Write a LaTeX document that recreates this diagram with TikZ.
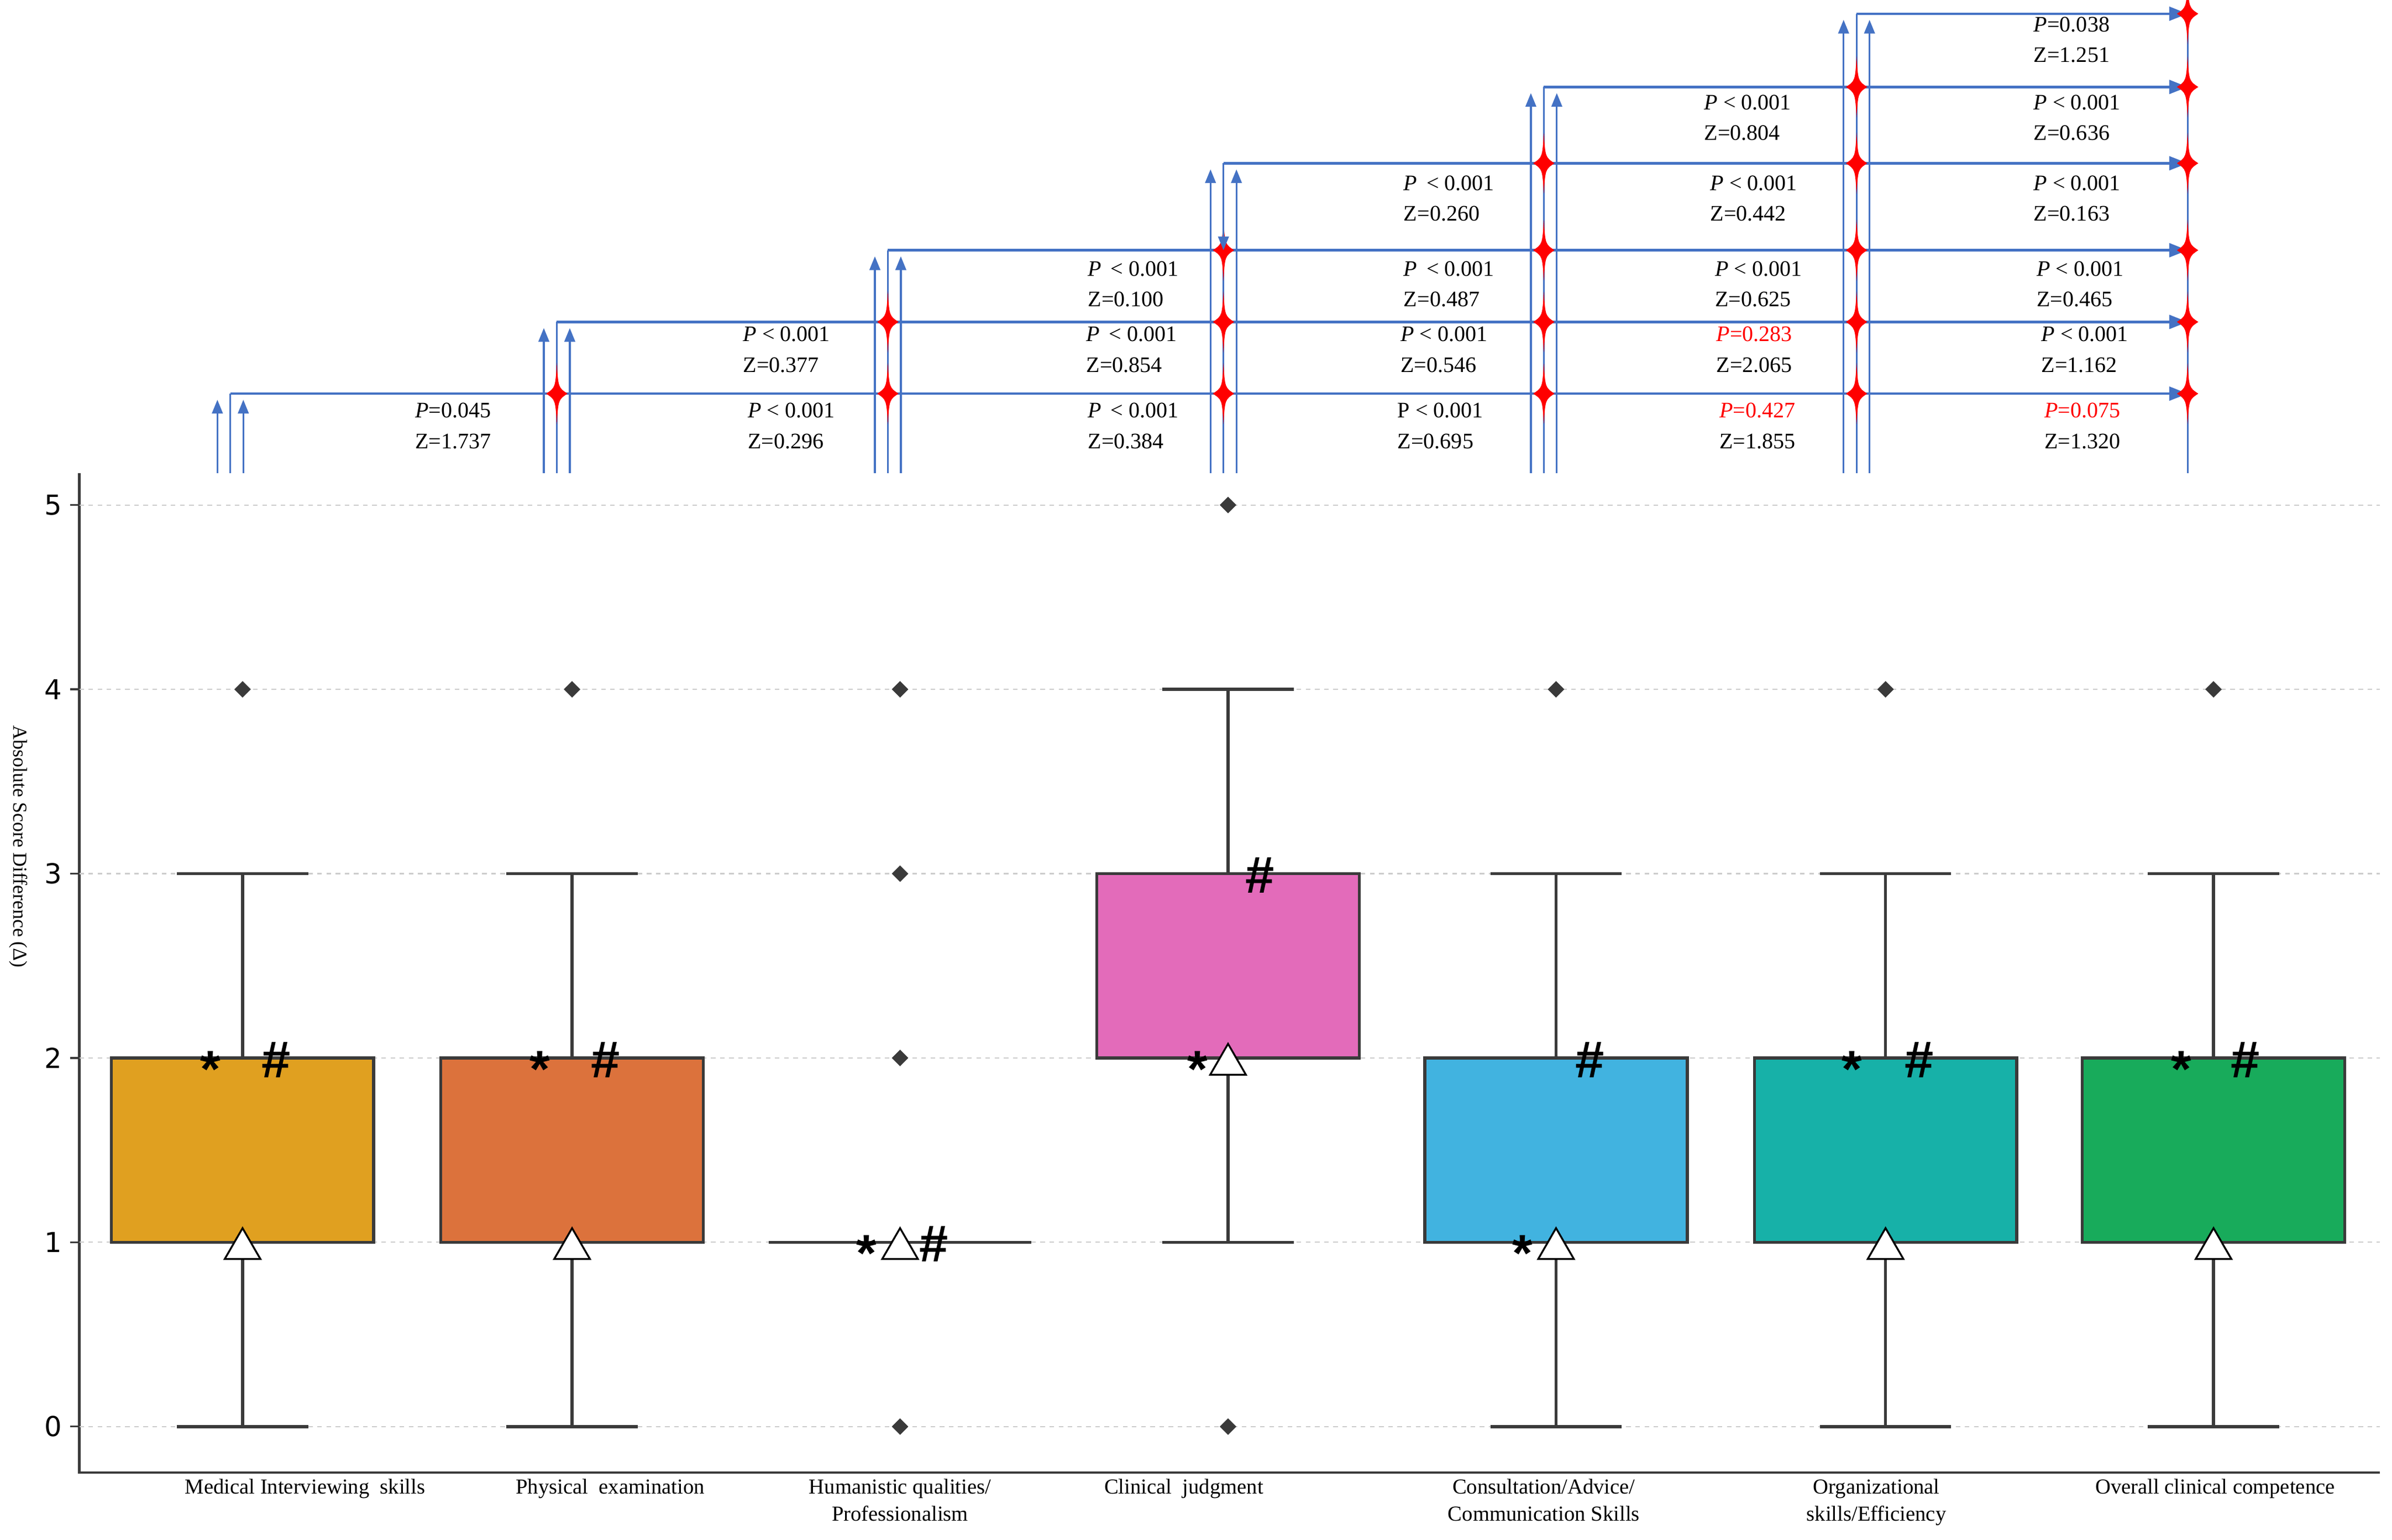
\documentclass[tikz,border=0pt]{standalone}
\usepackage{fontspec}
\setmainfont{Liberation Serif}
\newfontfamily\tickfont{DejaVu Sans}
\newfontfamily\markfont{Liberation Sans}
\usepackage{tikz}
\usetikzlibrary{arrows.meta,shapes.geometric}
\definecolor{linkblue}{HTML}{4472C4}
\definecolor{edgegray}{HTML}{3A3A3A}
\definecolor{boxA}{HTML}{E0A020}
\definecolor{boxB}{HTML}{DC723C}
\definecolor{boxD}{HTML}{E36BBA}
\definecolor{boxE}{HTML}{41B3E0}
\definecolor{boxF}{HTML}{17B1A8}
\definecolor{boxG}{HTML}{18AB5B}
\tikzset{
  bl/.style={draw=linkblue,line width=1.2pt},
  uparrow/.style={bl,-{Triangle[length=9pt,width=7pt]}},
  rowarrow/.style={bl,line width=1.6pt,-{Triangle[length=12pt,width=9pt]}},
  spark/.pic={\fill[red] (0,-20) .. controls (1,-4) .. (7,0) .. controls (1,4) .. (0,20)
     .. controls (-1,4) .. (-7,0) .. controls (-1,-4) .. cycle;},
  stat/.style={anchor=north west,align=left,inner sep=0pt,font=\fontsize{14.5}{20}\selectfont},
  outlier/.style={diamond,fill=edgegray,inner sep=0pt,minimum size=11pt},
  meanmark/.style={regular polygon,regular polygon sides=3,draw=black,fill=white,line width=1.2pt,inner sep=0pt,minimum size=27pt},
  sigmark/.style={font=\markfont\bfseries\fontsize{34}{34}\selectfont,inner sep=0pt},
  xlab/.style={anchor=north,align=center,inner sep=0pt,font=\fontsize{14}{18}\selectfont},
}
\begin{document}
\begin{tikzpicture}[x=1pt,y=-1pt]
\useasboundingbox (0,0) rectangle (1568,1009);

% comparison grid
\foreach \xx [count=\j] in {151,365,582,802,1012,1217,1434} {
  \coordinate (b\j) at (\xx,310);
  \foreach \yy [count=\i] in {258,211,164,107,57,9}
    \coordinate (r\i c\j) at (\xx,\yy);
}
\foreach \j in {1,...,6} \draw[bl] (b\j) -- (r\j c\j);
\draw[bl] (b7) -- (r6c7);
\foreach \i in {1,...,6} {
  \draw[uparrow] ([xshift=-8.5pt]b\i) -- ([xshift=-8.5pt,yshift=-4pt]r\i c\i);
  \draw[uparrow] ([xshift=8.5pt]b\i) -- ([xshift=8.5pt,yshift=-4pt]r\i c\i);
  \draw[rowarrow] (r\i c\i) -- (r\i c7);
  \pgfmathtruncatemacro\nxt{\i+1}
  \foreach \j in {\nxt,...,7} \pic at (r\i c\j) {spark};
}
\draw[bl,-{Triangle[length=9pt,width=7pt]}] (r4c4) -- (r3c4);

% statistics
\foreach \xx/\yy/\pp/\zz in {
  272/264/\textit{P}=0.045/1.737, 490/264/\textit{P} < 0.001/0.296,
  713/264/\textit{P}\ \,< 0.001/0.384, 916/264/P < 0.001/0.695,
  1127/264/{\color{red}\textit{P}=0.427}/1.855, 1340/264/{\color{red}\textit{P}=0.075}/1.320,
  487/214/\textit{P} < 0.001/0.377, 712/214/\textit{P}\ \,< 0.001/0.854,
  918/214/\textit{P} < 0.001/0.546, 1125/214/{\color{red}\textit{P}=0.283}/2.065,
  1338/214/\textit{P} < 0.001/1.162,
  713/171/\textit{P}\ \,< 0.001/0.100, 920/171/\textit{P}\ \,< 0.001/0.487,
  1124/171/\textit{P} < 0.001/0.625, 1335/171/\textit{P} < 0.001/0.465,
  920/115/\textit{P}\ \,< 0.001/0.260, 1121/115/\textit{P} < 0.001/0.442,
  1333/115/\textit{P} < 0.001/0.163,
  1117/62/\textit{P} < 0.001/0.804, 1333/62/\textit{P} < 0.001/0.636,
  1333/11/\textit{P}=0.038/1.251}
  \node[stat] at (\xx,\yy) {\pp\\Z=\zz};

% axes
\draw[edgegray,line width=1.5pt] (52,310) -- (52,965) -- (1560,965);
\begin{scope}[shift={(0,935)},y=120.8pt]
  \foreach \v in {0,...,5} {
    \draw[gray!40,dashed,line width=0.8pt] (52,\v) -- (1560,\v);
    \draw[edgegray,line width=1.2pt] (46,\v) -- (52,\v);
    \node[anchor=east,font=\tickfont\fontsize{18}{18}\selectfont] (tick\v) at (44,\v) {\v};
  }
  % boxes
  \foreach \cx/\lo/\hi/\wl/\wh/\col in {159/1/2/0/3/boxA,375/1/2/0/3/boxB,
      590/1/1/1/1/white,805/2/3/1/4/boxD,1020/1/2/0/3/boxE,1236/1/2/0/3/boxF,1451/1/2/0/3/boxG} {
    \draw[edgegray,line width=2pt] (\cx,\wl) -- (\cx,\lo) (\cx,\hi) -- (\cx,\wh);
    \draw[edgegray,line width=2pt] (\cx-43,\wl) -- (\cx+43,\wl) (\cx-43,\wh) -- (\cx+43,\wh);
    \filldraw[fill=\col,draw=edgegray,line width=2pt] (\cx-86,\lo) rectangle (\cx+86,\hi);
  }
  \foreach \cx/\v [count=\k] in {159/4,375/4,590/0,590/2,590/3,590/4,805/0,805/5,1020/4,1236/4,1451/4}
    \node[outlier] (out\k) at (\cx,\v) {};
  \foreach \cx/\v [count=\k] in {159/1,375/1,590/1,805/2,1020/1,1236/1,1451/1}
    \node[meanmark] (mean\k) at (\cx,\v-0.035) {};
  \foreach \cx/\v/\s [count=\k] in {138/1.94/*,181/1.99/\#,354/1.94/*,397/1.99/\#,568/0.94/*,612/0.99/\#,
      826/2.99/\#,785/1.94/*,1042/1.99/\#,998/0.94/*,1214/1.94/*,1258/1.99/\#,1430/1.94/*,1472/1.99/\#}
    \node[sigmark] (sig\k) at (\cx,\v) {\s};
\end{scope}

% labels
\node[rotate=-90,font=\fontsize{13}{13}\selectfont] (ylab) at (12,555) {Absolute Score Difference (Δ)};
\node[xlab] (lab1) at (200,969) {Medical Interviewing\ \ skills};
\node[xlab] (lab2) at (400,969) {Physical\ \ examination};
\node[xlab] (lab3) at (590,969) {Humanistic qualities/\\Professionalism};
\node[xlab] (lab4) at (776,969) {Clinical\ \ judgment};
\node[xlab] (lab5) at (1012,969) {Consultation/Advice/\\Communication Skills};
\node[xlab] (lab6) at (1230,969) {Organizational\\skills/Efficiency};
\node[xlab] (lab7) at (1452,969) {Overall clinical competence};
\end{tikzpicture}
\end{document}
